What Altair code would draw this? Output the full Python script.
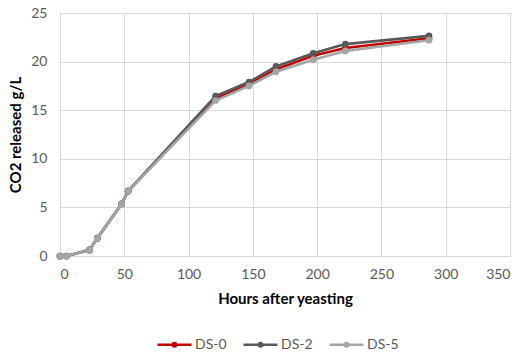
import altair as alt
import pandas as pd

# Hours after yeasting at which CO2 release was measured
hours = [0, 5, 23, 29, 48, 53, 121, 147, 168, 197, 222, 287]

# Cumulative CO2 released (g/L) per treatment
ds0 = [0, 0, 0.6, 1.8, 5.35, 6.65, 16.2, 17.7, 19.2, 20.6, 21.4, 22.4]
ds2 = [0, 0, 0.65, 1.85, 5.4, 6.7, 16.45, 17.9, 19.5, 20.85, 21.8, 22.65]
ds5 = [0, 0, 0.6, 1.8, 5.35, 6.65, 16.0, 17.5, 18.95, 20.2, 21.1, 22.2]

series = ["DS-0", "DS-2", "DS-5"]
colors = ["#C00000", "#595959", "#A5A5A5"]
values = {"DS-0": ds0, "DS-2": ds2, "DS-5": ds5}

rows = []
for name in series:
    for h, v in zip(hours, values[name]):
        rows.append({"hours": h, "co2": v, "series": name})
df = pd.DataFrame(rows)

FONT = "Lato"

x = alt.X(
    "hours:Q",
    scale=alt.Scale(domain=[0, 350], nice=False),
    axis=alt.Axis(values=list(range(0, 351, 50)), title="Hours after yeasting",
                  titlePadding=10),
)
y = alt.Y(
    "co2:Q",
    scale=alt.Scale(domain=[0, 25], nice=False),
    axis=alt.Axis(values=list(range(0, 26, 5)), title="CO2 released g/L",
                  titlePadding=7),
)
legend = alt.Legend(
    orient="none", legendX=96, legendY=313, direction="horizontal",
    title=None,
    symbolType="M-1,0L1,0M-0.1,0A0.1,0.1,0,1,1,0.1,0A0.1,0.1,0,1,1,-0.1,0",
    symbolSize=1156, symbolStrokeWidth=2.5, labelOffset=2, columnPadding=11,
    padding=0,
)
color = alt.Color("series:N", scale=alt.Scale(domain=series, range=colors),
                  legend=legend)

layers = []
for name in series:
    sub = alt.Chart(df).transform_filter(alt.datum.series == name)
    layers.append(sub.mark_line(strokeWidth=2.6).encode(x=x, y=y, color=color))
    layers.append(sub.mark_circle(size=45, opacity=1).encode(x=x, y=y, color=color))

chart = alt.layer(*layers).properties(
    width=450, height=243,
    autosize=alt.AutoSizeParams(type="none"),
    padding={"left": 60, "top": 13, "right": 14, "bottom": 98},
    background="white",
).configure_view(stroke=None).configure_axis(
    grid=True, gridColor="#D9D9D9", gridWidth=1,
    domainColor="#D9D9D9", domainWidth=1,
    ticks=False, labelPadding=11,
    labelFont=FONT, labelFontSize=14, labelColor="#595959",
    titleFont=FONT, titleFontSize=15, titleFontWeight="bold", titleColor="#000000",
).configure_axisY(labelPadding=13).configure_legend(
    labelFont=FONT, labelFontSize=14, labelColor="#595959",
)

chart.save("out.html", embed_options={"renderer": "svg", "actions": False})
